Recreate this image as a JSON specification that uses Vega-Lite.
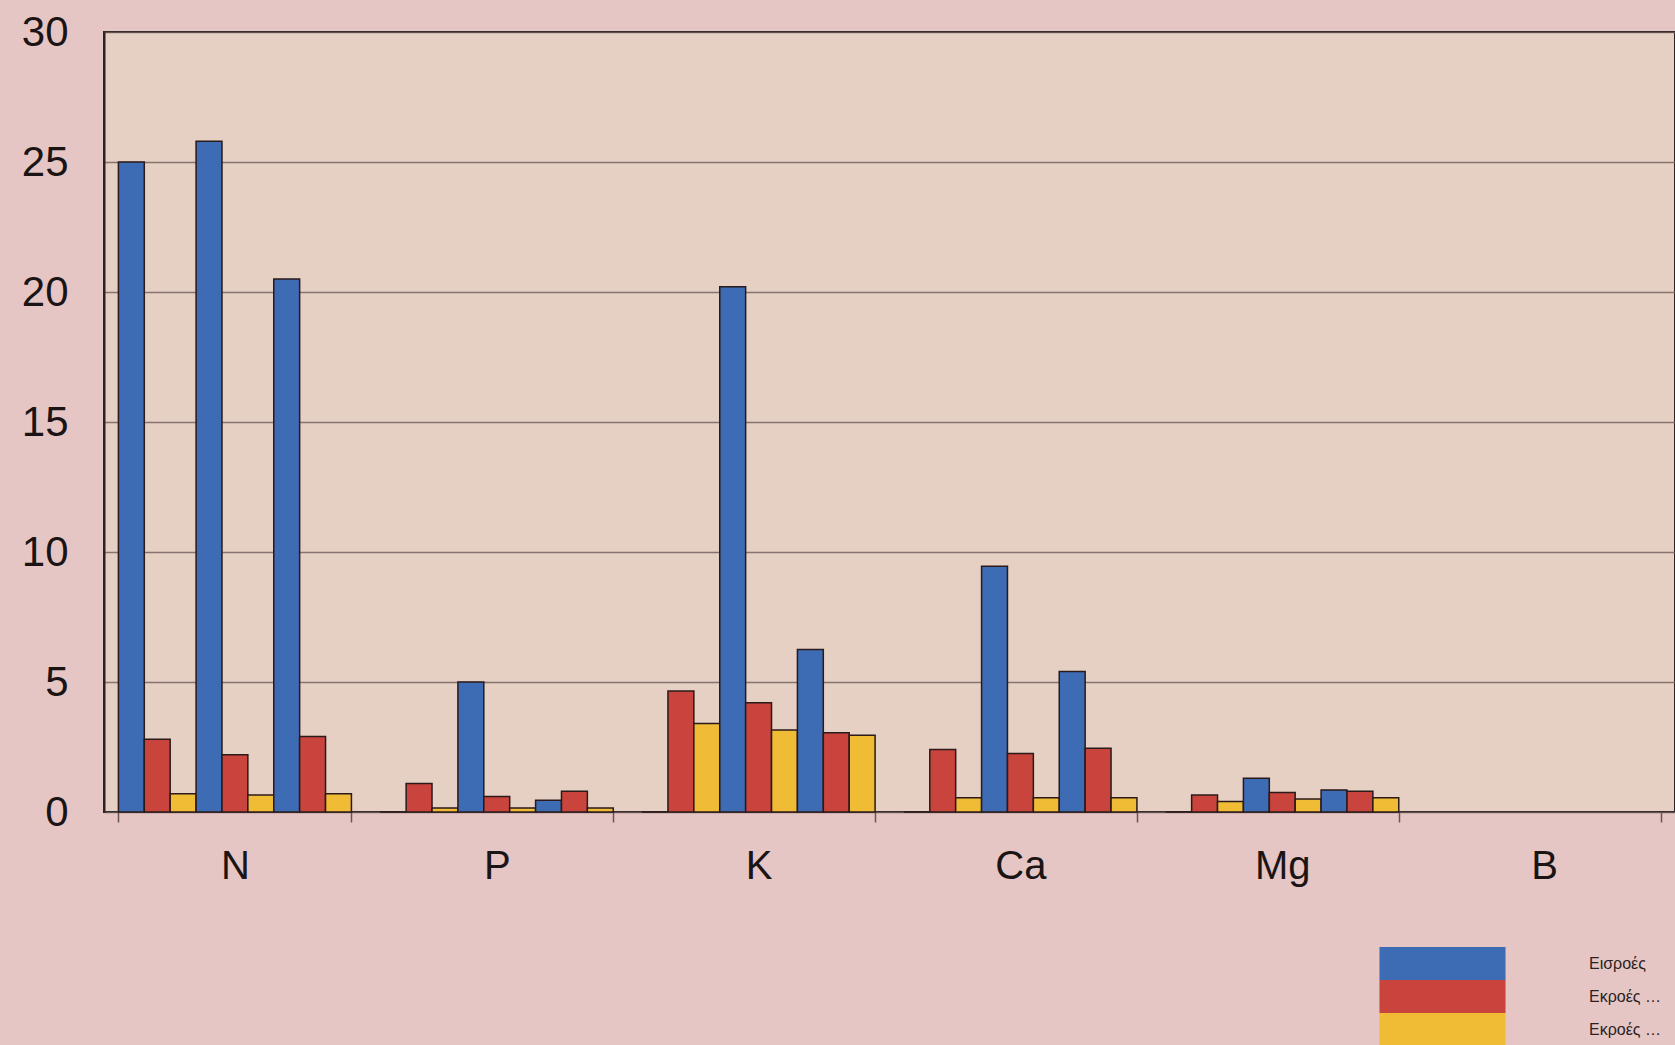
{
  "$schema": "https://vega.github.io/schema/vega-lite/v6.json",
  "autosize": {"type": "none"},
  "width": 1571,
  "height": 780,
  "padding": {"left": 104, "top": 32, "right": 0, "bottom": 233},
  "background": "#e6c6c4",
  "config": {
    "font": "Liberation Sans",
    "view": {"fill": "#e6d0c4", "stroke": "#2e2222", "strokeWidth": 2}
  },
  "data": {
    "values": [
      {"el": "N", "slot": 1, "series": "Εισροές", "v": 25.0},
      {"el": "N", "slot": 2, "series": "Εκροές με απορροή", "v": 2.8},
      {"el": "N", "slot": 3, "series": "Εκροές με έκπλυση", "v": 0.7},
      {"el": "N", "slot": 4, "series": "Εισροές", "v": 25.8},
      {"el": "N", "slot": 5, "series": "Εκροές με απορροή", "v": 2.2},
      {"el": "N", "slot": 6, "series": "Εκροές με έκπλυση", "v": 0.65},
      {"el": "N", "slot": 7, "series": "Εισροές", "v": 20.5},
      {"el": "N", "slot": 8, "series": "Εκροές με απορροή", "v": 2.9},
      {"el": "N", "slot": 9, "series": "Εκροές με έκπλυση", "v": 0.7},
      {"el": "P", "slot": 1, "series": "Εισροές", "v": 0},
      {"el": "P", "slot": 2, "series": "Εκροές με απορροή", "v": 1.1},
      {"el": "P", "slot": 3, "series": "Εκροές με έκπλυση", "v": 0.15},
      {"el": "P", "slot": 4, "series": "Εισροές", "v": 5.0},
      {"el": "P", "slot": 5, "series": "Εκροές με απορροή", "v": 0.6},
      {"el": "P", "slot": 6, "series": "Εκροές με έκπλυση", "v": 0.15},
      {"el": "P", "slot": 7, "series": "Εισροές", "v": 0.45},
      {"el": "P", "slot": 8, "series": "Εκροές με απορροή", "v": 0.8},
      {"el": "P", "slot": 9, "series": "Εκροές με έκπλυση", "v": 0.15},
      {"el": "K", "slot": 1, "series": "Εισροές", "v": 0},
      {"el": "K", "slot": 2, "series": "Εκροές με απορροή", "v": 4.65},
      {"el": "K", "slot": 3, "series": "Εκροές με έκπλυση", "v": 3.4},
      {"el": "K", "slot": 4, "series": "Εισροές", "v": 20.2},
      {"el": "K", "slot": 5, "series": "Εκροές με απορροή", "v": 4.2},
      {"el": "K", "slot": 6, "series": "Εκροές με έκπλυση", "v": 3.15},
      {"el": "K", "slot": 7, "series": "Εισροές", "v": 6.25},
      {"el": "K", "slot": 8, "series": "Εκροές με απορροή", "v": 3.05},
      {"el": "K", "slot": 9, "series": "Εκροές με έκπλυση", "v": 2.95},
      {"el": "Ca", "slot": 1, "series": "Εισροές", "v": 0},
      {"el": "Ca", "slot": 2, "series": "Εκροές με απορροή", "v": 2.4},
      {"el": "Ca", "slot": 3, "series": "Εκροές με έκπλυση", "v": 0.55},
      {"el": "Ca", "slot": 4, "series": "Εισροές", "v": 9.45},
      {"el": "Ca", "slot": 5, "series": "Εκροές με απορροή", "v": 2.25},
      {"el": "Ca", "slot": 6, "series": "Εκροές με έκπλυση", "v": 0.55},
      {"el": "Ca", "slot": 7, "series": "Εισροές", "v": 5.4},
      {"el": "Ca", "slot": 8, "series": "Εκροές με απορροή", "v": 2.45},
      {"el": "Ca", "slot": 9, "series": "Εκροές με έκπλυση", "v": 0.55},
      {"el": "Mg", "slot": 1, "series": "Εισροές", "v": 0},
      {"el": "Mg", "slot": 2, "series": "Εκροές με απορροή", "v": 0.65},
      {"el": "Mg", "slot": 3, "series": "Εκροές με έκπλυση", "v": 0.4},
      {"el": "Mg", "slot": 4, "series": "Εισροές", "v": 1.3},
      {"el": "Mg", "slot": 5, "series": "Εκροές με απορροή", "v": 0.75},
      {"el": "Mg", "slot": 6, "series": "Εκροές με έκπλυση", "v": 0.5},
      {"el": "Mg", "slot": 7, "series": "Εισροές", "v": 0.85},
      {"el": "Mg", "slot": 8, "series": "Εκροές με απορροή", "v": 0.8},
      {"el": "Mg", "slot": 9, "series": "Εκροές με έκπλυση", "v": 0.55}
    ]
  },
  "mark": {"type": "bar", "stroke": "#2a1a1a", "strokeWidth": 1.5},
  "encoding": {
    "x": {
      "field": "el",
      "type": "nominal",
      "sort": ["N", "P", "K", "Ca", "Mg", "B"],
      "scale": {"domain": ["N", "P", "K", "Ca", "Mg", "B"], "paddingInner": 0.11, "paddingOuter": 0.055},
      "axis": {
        "title": null,
        "labelAngle": 0,
        "labelFontSize": 40,
        "labelColor": "#1a1414",
        "labelPadding": 24,
        "domain": false,
        "ticks": true,
        "tickBand": "extent",
        "tickSize": 10,
        "tickColor": "#6a5656",
        "tickWidth": 1.5
      }
    },
    "xOffset": {"field": "slot", "type": "ordinal", "scale": {"paddingInner": 0, "paddingOuter": 0}},
    "y": {
      "field": "v",
      "type": "quantitative",
      "scale": {"domain": [0, 30], "nice": false},
      "axis": {
        "title": null,
        "values": [0, 5, 10, 15, 20, 25, 30],
        "labelFontSize": 42,
        "labelColor": "#1a1414",
        "labelPadding": 36,
        "ticks": false,
        "domain": true,
        "domainColor": "#2e2222",
        "domainWidth": 2,
        "grid": true,
        "gridColor": "#6e5c5c",
        "gridWidth": 1.5,
        "gridOpacity": 0.8
      }
    },
    "color": {
      "field": "series",
      "type": "nominal",
      "scale": {
        "domain": ["Εισροές", "Εκροές με απορροή", "Εκροές με έκπλυση"],
        "range": ["#3d6cb4", "#c8443c", "#f0bb35"]
      },
      "legend": {
        "title": null,
        "orient": "none",
        "legendX": 1322,
        "legendY": 915,
        "symbolType": "M-3.82,-1H3.82V1H-3.82Z",
        "symbolSize": 1089,
        "symbolStrokeWidth": 0,
        "symbolOpacity": 1,
        "rowPadding": 0,
        "labelFontSize": 16,
        "labelColor": "#2a2222",
        "labelOffset": 130,
        "labelLimit": 78
      }
    }
  }
}
